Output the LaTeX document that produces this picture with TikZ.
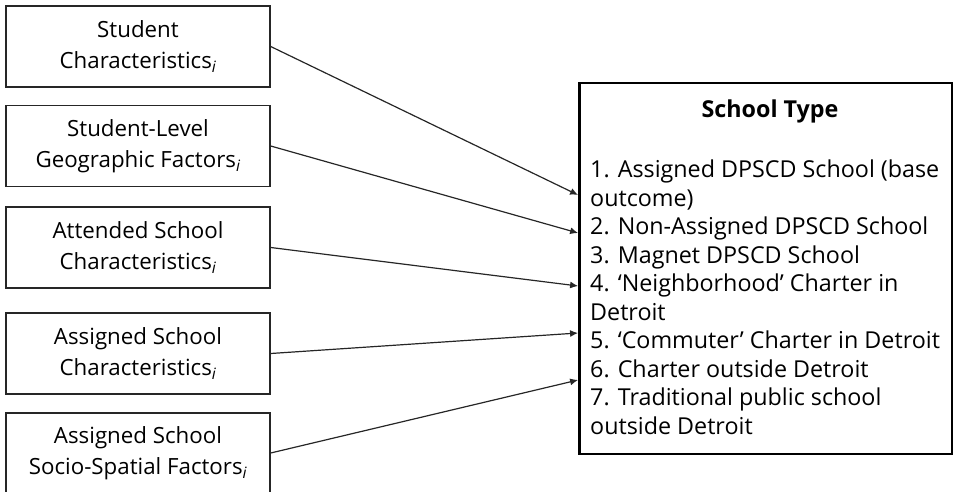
\documentclass[tikz,border=0pt]{standalone}
\usepackage{fontspec}
\setmainfont{Open Sans}
\usetikzlibrary{arrows.meta}
\begin{document}
\begin{tikzpicture}[x=1pt,y=-1pt,
  inbox/.style={draw=black!85,line width=1.4pt,minimum width=264pt,minimum height=81pt,inner sep=0pt,align=center,font=\fontsize{22.3}{31}\selectfont},
  outbox/.style={draw=black,line width=2.8pt,minimum width=373pt,minimum height=371pt,inner sep=0pt},
  link/.style={draw=black!85,line width=1.2pt,-{Latex[length=8pt,width=7pt]}}
]
\useasboundingbox (0,0) rectangle (953,492);
\node[inbox] (a1) at (138,46.5) {Student\\Characteristics\textsubscript{\itshape i}};
\node[inbox] (a2) at (138,146) {Student-Level\\Geographic Factors\textsubscript{\itshape i}};
\node[inbox] (a3) at (138,247.5) {Attended School\\Characteristics\textsubscript{\itshape i}};
\node[inbox] (a4) at (138,353.5) {Assigned School\\Characteristics\textsubscript{\itshape i}};
\node[inbox,minimum height=80pt] (a5) at (138,453) {Assigned School\\Socio-Spatial Factors\textsubscript{\itshape i}};
\node[outbox] (st) at (766,268.5) {};
\node[anchor=base,inner sep=0pt,font=\fontsize{23.3}{28.5}\selectfont\bfseries] (stt) at (770,118) {School Type};
\node[anchor=north west,inner sep=0pt,align=left,font=\fontsize{23.3}{28.5}\selectfont] (stl) at (590,160) {1. Assigned DPSCD School (base\\outcome)\\2. Non-Assigned DPSCD School\\3. Magnet DPSCD School\\4. ‘Neighborhood’ Charter in\\Detroit\\5. ‘Commuter’ Charter in Detroit\\6. Charter outside Detroit\\7. Traditional public school\\outside Detroit};
\draw[link] (a1.east) -- (st.west |- 0,195);
\draw[link] (a2.east) -- (st.west |- 0,233);
\draw[link] (a3.east) -- (st.west |- 0,286);
\draw[link] (a4.east) -- (st.west |- 0,333);
\draw[link] (a5.east) -- (st.west |- 0,380);
\end{tikzpicture}
\end{document}
